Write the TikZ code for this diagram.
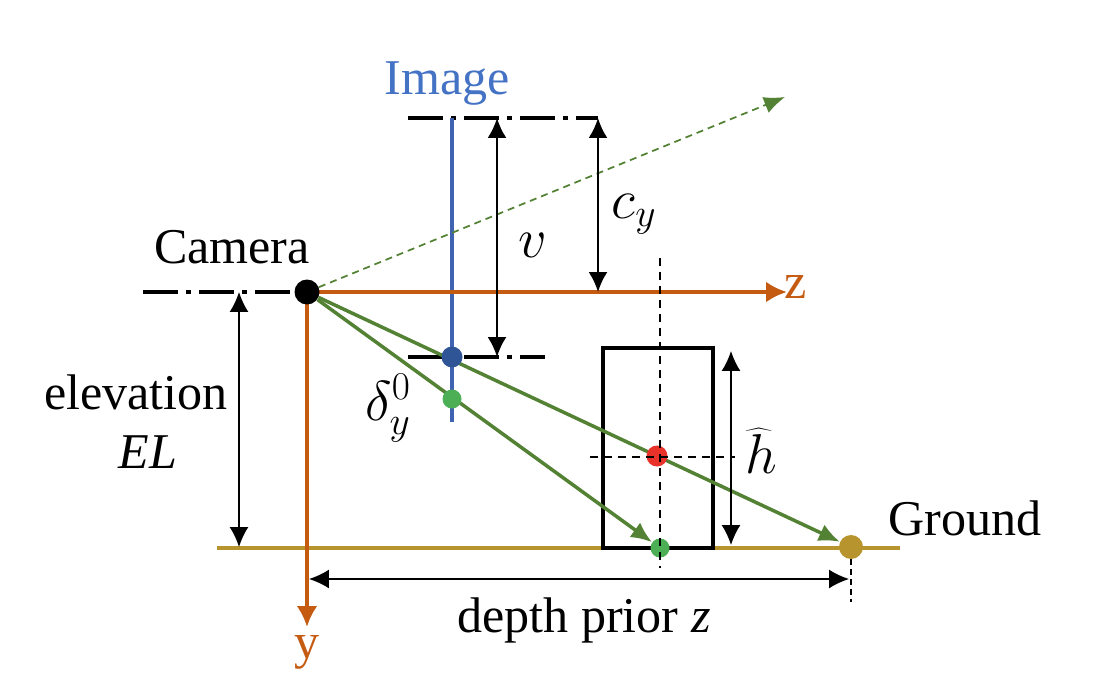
\RequirePackage{fix-cm}
\documentclass[tikz,border=0pt]{standalone}
\usepackage{fontspec}
\setmainfont{Liberation Serif}
\usetikzlibrary{arrows.meta,backgrounds}
\definecolor{axisor}{HTML}{C55A11}
\definecolor{imgtext}{HTML}{4472C4}
\definecolor{imgline}{HTML}{3F63B0}
\definecolor{imgdot}{HTML}{2F5597}
\definecolor{raygreen}{HTML}{548235}
\definecolor{dotgreen}{HTML}{4CAF55}
\definecolor{dotred}{HTML}{E8322A}
\definecolor{ground}{HTML}{B8942F}
\tikzstyle{dot}=[circle, inner sep=0pt, minimum size=0.42cm]
\tikzstyle{txt}=[inner sep=0pt, font=\fontsize{28.5}{34}\selectfont]
\tikzstyle{mtxt}=[inner sep=0pt, font=\fontsize{32}{38}\selectfont]
\tikzstyle{refline}=[line width=0.075cm,
                     dash pattern=on 0.7cm off 0.16cm on 0.1cm off 0.16cm]
\tikzstyle{guide}=[line width=0.045cm, dash pattern=on 0.16cm off 0.12cm]
\tikzstyle{measure}=[line width=0.03cm,
                     {Latex[length=0.4cm,width=0.38cm]}-{Latex[length=0.4cm,width=0.38cm]}]
\tikzstyle{axisline}=[axisor, line width=0.09cm, -{Latex[length=0.42cm,width=0.42cm]}]
\tikzstyle{ray}=[raygreen, line width=0.07cm, -{Latex[length=0.42cm,width=0.36cm]}]

\begin{document}
\begin{tikzpicture}[x=0.02cm, y=-0.02cm]
  \useasboundingbox (0,0) rectangle (1102,686);

  % points on the rays
  \node at (307,292) (cam) [dot, fill=black, minimum size=0.5cm] {};
  \node at (452,357) (pv) [dot, fill=imgdot] {};
  \node at (452,399) (pg) [dot, fill=dotgreen, minimum size=0.38cm] {};
  \node at (657,456) (pr) [dot, fill=dotred] {};
  \node at (660,548) (pb) [dot, fill=dotgreen, minimum size=0.38cm] {};
  \node at (851,547) (pz) [dot, fill=ground, minimum size=0.48cm] {};

  \coordinate (far) at (785,97);
  \coordinate (zend) at (787,292);
  \coordinate (yend) at (307,627);
  \coordinate (imtop) at (452,118);
  \coordinate (imbot) at (452,422);
  \coordinate (g1) at (217,548);
  \coordinate (g2) at (900,548);

  \begin{scope}[on background layer]
    \draw[refline] (143,292) coordinate (l1) -- (cam.center);
    \draw[refline] (408,118) coordinate (t1) -- (598,118) coordinate (t2);
    \draw[refline] (408,357) coordinate (b1) -- (545,357) coordinate (b2);
    \draw[ground, line width=0.07cm] (g1) -- (g2);
    \node at (658,448) (obj) [draw, line width=0.09cm,
                              minimum width=2.2cm, minimum height=4cm] {};
    \draw[imgline, line width=0.07cm] (imtop) -- (imbot);
    \draw[axisline] (cam.center) -- (zend);
    \draw[axisline] (cam.center) -- (yend);
    \draw[raygreen, line width=0.035cm, dash pattern=on 0.14cm off 0.1cm,
          -{Latex[length=0.42cm,width=0.34cm]}] (cam) -- (far);
    \draw[ray] (cam) -- (pz);
    \draw[ray] (cam) -- (pb);
  \end{scope}

  % object centre lines
  \draw[guide] (660,258) coordinate (c1) -- (660,568) coordinate (c2);
  \draw[guide] (590,457) coordinate (m1) -- (735,457) coordinate (m2);
  \draw[line width=0.025cm, dash pattern=on 0.12cm off 0.08cm]
    (pz.south) -- (851,602) coordinate (zmark);

  % dimensions
  \coordinate (v1) at (497,118);
  \coordinate (v2) at (497,357);
  \coordinate (cy1) at (598,118);
  \coordinate (cy2) at (598,292);
  \coordinate (e1) at (239,292);
  \coordinate (e2) at (239,547);
  \coordinate (h1) at (731,351);
  \coordinate (h2) at (731,545);
  \coordinate (d1) at (309,579);
  \coordinate (d2) at (849,579);
  \draw[measure, line width=0.045cm] (v1) -- (v2);
  \draw[measure, line width=0.045cm] (cy1) -- (cy2);
  \draw[measure] (e1) -- (e2);
  \draw[measure] (h1) -- (h2);
  \draw[measure] (d1) -- (d2);

  \node at (232,247) (camlbl) [txt] {Camera};
  \node at (447,84) (imglbl) [txt, text=imgtext] {Image};
  \node at (796,287) (zlbl) [txt, text=axisor] {z};
  \node at (307,652) (ylbl) [txt, text=axisor] {y};
  \node at (136,392) (elev) [txt] {elevation};
  \node at (148,452) (ellbl) [txt] {\textit{EL}};
  \node at (533,245) (vlbl) [mtxt] {$v$};
  \node at (634,214) (cylbl) [mtxt] {$c_y$};
  \node at (388,408) (dlbl) [mtxt] {$\delta_y^0$};
  \node at (761,451) (hlbl) [mtxt] {$\widehat{h}$};
  \node at (965,518) (gndlbl) [txt] {Ground};
  \node at (584,620) (dplbl) [txt] {depth prior \textit{z}};
\end{tikzpicture}
\end{document}
